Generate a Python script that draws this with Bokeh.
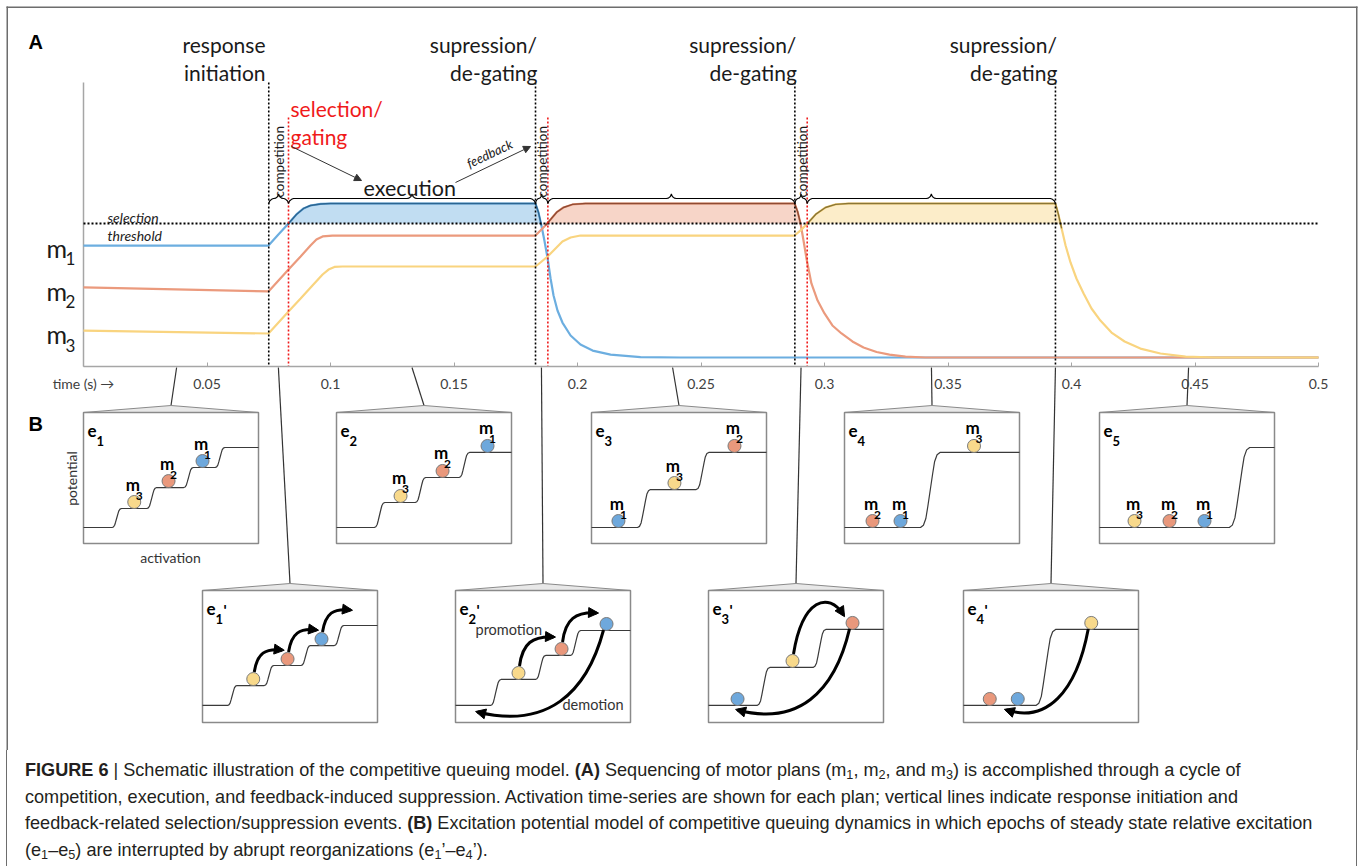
import numpy as np
from bokeh.plotting import figure
from bokeh.models import Range1d, LinearAxis, FixedTicker, Div, Arrow, NormalHead
from bokeh.layouts import column
from bokeh.embed import file_html
from bokeh.resources import INLINE
from bokeh.core.properties import value

# ======================= DATA =======================
# Panel A: activation time series of the three motor plans (time in s, activation in a.u.)
M1_T = [0.0, 0.0749, 0.0789, 0.0830, 0.0862, 0.0891, 0.0919, 0.0960, 0.1000, 0.1830, 0.1842,
        0.1854, 0.1866, 0.1879, 0.1891, 0.1903, 0.1919, 0.1939, 0.1972, 0.2012, 0.2061, 0.2134,
        0.2255, 0.2417, 0.5]
M1_A = [0.727, 0.727, 0.799, 0.870, 0.929, 0.968, 0.987, 0.997, 1.0, 1.0, 0.942,
        0.857, 0.760, 0.643, 0.513, 0.403, 0.305, 0.227, 0.143, 0.084, 0.045, 0.019,
        0.003, 0.0, 0.0]
M2_T = [0.0, 0.0749, 0.0830, 0.0879, 0.0919, 0.0943, 0.0968, 0.1008, 0.1830, 0.1850, 0.1870,
        0.1891, 0.1915, 0.1943, 0.1980, 0.2032, 0.2879, 0.2891, 0.2903, 0.2915, 0.2927, 0.2947,
        0.2972, 0.3000, 0.3032, 0.3069, 0.3113, 0.3158, 0.3211, 0.3263, 0.3328, 0.3409, 0.5]
M2_A = [0.455, 0.429, 0.571, 0.656, 0.727, 0.766, 0.786, 0.792, 0.792, 0.825, 0.857,
        0.896, 0.942, 0.974, 0.994, 1.0, 1.0, 0.948, 0.870, 0.760, 0.643, 0.481,
        0.370, 0.286, 0.208, 0.156, 0.104, 0.065, 0.036, 0.019, 0.006, 0.0, 0.0]
M3_T = [0.0, 0.0749, 0.0830, 0.0879, 0.0927, 0.0968, 0.0992, 0.1016, 0.1049, 0.1830, 0.1850,
        0.1879, 0.1911, 0.1939, 0.1972, 0.2012, 0.2879, 0.2903, 0.2931, 0.2964, 0.3004, 0.3045,
        0.3097, 0.3935, 0.3947, 0.3960, 0.3976, 0.3996, 0.4020, 0.4049, 0.4081, 0.4117, 0.4162,
        0.4215, 0.4279, 0.4360, 0.4462, 0.4583, 0.5]
M3_A = [0.175, 0.156, 0.299, 0.383, 0.468, 0.539, 0.571, 0.588, 0.591, 0.591, 0.617,
        0.656, 0.708, 0.753, 0.779, 0.792, 0.792, 0.825, 0.870, 0.929, 0.974, 0.994,
        1.0, 1.0, 0.929, 0.838, 0.727, 0.617, 0.513, 0.416, 0.318, 0.240, 0.162,
        0.104, 0.058, 0.026, 0.006, 0.0, 0.0]
THRESHOLD = 0.870
INITIATION_T = [0.075]
SUPPRESSION_T = [0.183, 0.288, 0.3935]
SELECTION_T = [0.083, 0.188, 0.293]
TIME_TICKS = [0, 0.05, 0.1, 0.15, 0.2, 0.25, 0.3, 0.35, 0.4, 0.45, 0.5]
TIME_TICK_LABELS = ["time (s) \u2192", "0.05", "0.1", "0.15", "0.2", "0.25", "0.3", "0.35",
                    "0.4", "0.45", "0.5"]
EPOCH_T = [0.0377, 0.133, 0.2385, 0.3433, 0.4474]      # times shown by e1..e5
REORG_T = [0.0789, 0.1854, 0.2905, 0.3935]             # times shown by e1'..e4'

# Panel B: potential landscapes (levels as fraction of box height, steps as fraction of width)
EPOCH_LEVELS = [[0.122, 0.267, 0.427, 0.580, 0.733], [0.122, 0.313, 0.504, 0.695],
                [0.122, 0.412, 0.695], [0.122, 0.695], [0.122, 0.733]]
EPOCH_STEPS = [[0.19, 0.39, 0.60, 0.78], [0.246, 0.48, 0.73], [0.30, 0.634], [0.49], [0.80]]
# (activation across box, occupied potential level) for m1, m2, m3
EPOCH_M1 = [(0.68, 3), (0.863, 3), (0.154, 0), (0.32, 0), (0.60, 0)]
EPOCH_M2 = [(0.486, 2), (0.606, 2), (0.817, 2), (0.16, 0), (0.40, 0)]
EPOCH_M3 = [(0.29, 1), (0.366, 1), (0.474, 1), (0.74, 1), (0.20, 0)]
REORG_LEVELS = [[0.129, 0.280, 0.432, 0.583, 0.735], [0.129, 0.326, 0.508, 0.697],
                [0.129, 0.417, 0.705], [0.129, 0.705]]
REORG_STEPS = [[0.17, 0.38, 0.59, 0.78], [0.23, 0.486, 0.686], [0.314, 0.634], [0.47]]
REORG_M1 = [(0.68, 3), (0.863, 3), (0.166, 0), (0.31, 0)]
REORG_M2 = [(0.486, 2), (0.606, 2), (0.823, 2), (0.15, 0)]
REORG_M3 = [(0.29, 1), (0.36, 1), (0.48, 1), (0.73, 1)]

CAPTION_LINES = [
    "<b>FIGURE 6</b> | Schematic illustration of the competitive queuing model. <b>(A)</b> Sequencing of motor plans "
    "(m<sub>1</sub>, m<sub>2</sub>, and m<sub>3</sub>) is accomplished through a cycle of",
    "competition, execution, and feedback-induced suppression. Activation time-series are shown for each plan; "
    "vertical lines indicate response initiation and",
    "feedback-related selection/suppression events. <b>(B)</b> Excitation potential model of competitive queuing "
    "dynamics in which epochs of steady state relative excitation",
    "(e<sub>1</sub>\u2013e<sub>5</sub>) are interrupted by abrupt reorganizations "
    "(e<sub>1</sub>\u2019\u2013e<sub>4</sub>\u2019).",
]

# ======================= LAYOUT / STYLE =======================
W, H = 1360, 750
CAP_H = 116
AX_X0 = 83.0
AX_PX_PER_S = 2470.0
ACT_Y0 = 357.0
ACT_PX = 154.0
AXIS_Y = 366.0
FONT = "Lato"
BLUE, ORANGE, YELLOW = "#6caee0", "#eb9a7d", "#f9d47f"
BLUE_D, ORANGE_D, YELLOW_D = "#2c6591", "#8f4b33", "#8a7635"
BALL = {"m1": "#6ea8dc", "m2": "#e9987c", "m3": "#f8d98b"}
RED = "#f01a1a"
FRAME = "#6d6d6d"


def tx(t):
    return AX_X0 + t * AX_PX_PER_S


p = figure(width=W, height=H, x_range=Range1d(0, W), y_range=Range1d(H, 0),
           output_backend="svg", toolbar_location=None, x_axis_type=None, y_axis_type=None,
           min_border=0)
p.outline_line_color = None
p.background_fill_color = "white"
p.border_fill_color = "white"
p.extra_x_ranges = {"time": Range1d(-AX_X0 / AX_PX_PER_S, (W - AX_X0) / AX_PX_PER_S)}
p.extra_y_ranges = {"act": Range1d((ACT_Y0 - H) / ACT_PX, ACT_Y0 / ACT_PX)}


def txt(x, y, s, size, color="#1a1a1a", style="normal", align="left", baseline="alphabetic",
        angle=0.0, font=FONT):
    p.text(x=[x], y=[y], text=[s], text_font=value(font), text_font_size=f"{size}px",
           text_font_style=style, text_color=color, text_align=align,
           text_baseline=baseline, angle=angle)


def arrow(xs, ys, xe, ye, size, width, color="black"):
    p.add_layout(Arrow(end=NormalHead(size=size, fill_color=color, line_color=color, line_width=1),
                       x_start=xs, y_start=ys, x_end=xe, y_end=ye,
                       line_width=width, line_color=color))


# frame
p.line([6.75, 6.75], [6, H], line_color=FRAME, line_width=1.5)
p.line([1356.25, 1356.25], [6, H], line_color=FRAME, line_width=1.5)
p.line([6, 1357], [6.75, 6.75], line_color=FRAME, line_width=1.5)

# ---------------- Panel A ----------------
p.line([AX_X0, AX_X0], [82, AXIS_Y], line_color="#a6a6a6", line_width=1.5)
taxis = LinearAxis(x_range_name="time", fixed_location=AXIS_Y, bounds=(0, 0.5),
                   ticker=FixedTicker(ticks=TIME_TICKS, minor_ticks=[]),
                   major_label_overrides=dict(zip(TIME_TICKS, TIME_TICK_LABELS)))
taxis.axis_line_color = "#a6a6a6"
taxis.axis_line_width = 1.5
taxis.major_tick_line_color = "#a6a6a6"
taxis.major_tick_in = 4
taxis.major_tick_out = 0
taxis.minor_tick_line_color = None
taxis.major_label_text_font = FONT
taxis.major_label_text_font_size = "14px"
taxis.major_label_text_color = "#404040"
taxis.major_label_standoff = 8
p.add_layout(taxis, "below")

series = [(M1_T, M1_A, BLUE, BLUE_D), (M2_T, M2_A, ORANGE, ORANGE_D), (M3_T, M3_A, YELLOW, YELLOW_D)]
for t, a, c, cd in series:
    a = np.array(a)
    p.varea(x=t, y1=THRESHOLD, y2=np.maximum(a, THRESHOLD), x_range_name="time",
            y_range_name="act", fill_color=c, fill_alpha=0.42)
for t, a, c, cd in series:
    p.line(t, a, x_range_name="time", y_range_name="act", line_color=c, line_width=2.2)
for t, a, c, cd in series:
    t = np.array(t)
    a = np.array(a)
    m = a >= 0.835
    p.line(t[m], a[m], x_range_name="time", y_range_name="act", line_color=cd, line_width=1.4)

p.line([0, 0.5], [THRESHOLD, THRESHOLD], x_range_name="time", y_range_name="act",
       line_color="black", line_width=1.8, line_dash="2 2")

black_t = INITIATION_T + SUPPRESSION_T
p.segment(x0=black_t, y0=[82] * 4, x1=black_t, y1=[AXIS_Y] * 4, x_range_name="time",
          line_color="black", line_width=1.6, line_dash="2 2")
p.segment(x0=SELECTION_T, y0=[117] * 3, x1=SELECTION_T, y1=[AXIS_Y] * 3, x_range_name="time",
          line_color=RED, line_width=1.6, line_dash="2 2")


def brace(xa, xb, y=198.0):
    m = (xa + xb) / 2
    d = min(5.0, (xb - xa) / 4.2)
    xs = [xa, xa + 0.2 * d, xa + 0.6 * d, xa + d, m - d, m - 0.6 * d, m - 0.2 * d, m,
          m + 0.2 * d, m + 0.6 * d, m + d, xb - d, xb - 0.6 * d, xb - 0.2 * d, xb]
    ys = [y + 5, y + 2.5, y + 0.8, y, y, y - 0.4, y - 2, y - 4.5,
          y - 2, y - 0.4, y, y, y + 0.8, y + 2.5, y + 5]
    p.line(xs, ys, line_color="black", line_width=1.1)


starts = INITIATION_T + SUPPRESSION_T[:-1]
for i in range(3):
    brace(tx(starts[i]), tx(SELECTION_T[i]))
    brace(tx(SELECTION_T[i]), tx(SUPPRESSION_T[i]))
    txt((tx(starts[i]) + tx(SELECTION_T[i])) / 2 + 0.5, 197, "competition", 13.5, angle=np.pi / 2,
        baseline="middle")

txt(28, 41, "A", 20, style="bold", font="Liberation Sans", color="black")
txt(28, 423, "B", 20, style="bold", font="Liberation Sans", color="black")
txt(265, 44, "response", 21, align="right")
txt(265, 72, "initiation", 21, align="right")
for t in SUPPRESSION_T:
    txt(tx(t) + 1.5, 44, "supression/", 21, align="right")
    txt(tx(t) + 2, 72, "de-gating", 21, align="right")
txt(290, 108, "selection/", 21, color=RED)
txt(290, 136, "gating", 21, color=RED)
txt(363, 187, "execution", 21.5)
txt(107, 217, "selection", 14, style="italic", color="#222222")
txt(107, 235, "threshold", 14, style="italic", color="#222222")
for k, (yb, ys) in enumerate([(247, 258), (290, 301), (333, 345)]):
    txt(46, yb, "m", 25)
    txt(65, ys, str(k + 1), 17)
txt(489, 153, "feedback", 13, style="italic", align="center", baseline="middle", angle=0.44)
arrow(291, 146, 361, 180, 7, 1, "#333333")
arrow(455, 182, 530, 146, 7, 1, "#333333")

# ---------------- Panel B ----------------
INSET_W = 175
ROW1_LEFT, ROW1_TOP, ROW1_H, ROW1_PEAK = [83, 336, 591, 844, 1099], 412, 131, 405
ROW2_LEFT, ROW2_TOP, ROW2_H, ROW2_PEAK = [202, 455, 708, 963], 590, 132, 583
PROFILE_O = [-1, -0.7, -0.45, -0.25, 0, 0.25, 0.45, 0.7, 1]
PROFILE_F = [0, 0.03, 0.12, 0.28, 0.5, 0.72, 0.88, 0.97, 1]

for t, lft in zip(EPOCH_T, ROW1_LEFT):
    p.line([tx(t), lft + INSET_W / 2], [AXIS_Y + 1, ROW1_PEAK], line_color="#333333", line_width=1.2)
for t, lft in zip(REORG_T, ROW2_LEFT):
    p.line([tx(t), lft + INSET_W / 2], [AXIS_Y + 1, ROW2_PEAK], line_color="#333333", line_width=1.2)


def inset(left, top, h, peak, levels, steps, balls, num, prime, mlabels):
    w = INSET_W
    bottom = top + h
    p.patch([left, left + w / 2, left + w], [top, peak, top], fill_color="#e8e8e8",
            line_color="#8a8a8a", line_width=1)
    p.quad(left=left, right=left + w, top=top, bottom=bottom, fill_color="white",
           line_color="#8a8a8a", line_width=1.5)
    xs = [left]
    ys = [bottom - levels[0] * h]
    for i, s in enumerate(steps):
        a = bottom - levels[i] * h
        b = bottom - levels[i + 1] * h
        sx = left + s * w
        half = (6 + 0.18 * abs(a - b)) / 2
        for o, f in zip(PROFILE_O, PROFILE_F):
            xs.append(sx + o * half)
            ys.append(a + (b - a) * f)
    xs.append(left + w)
    ys.append(bottom - levels[-1] * h)
    p.line(xs, ys, line_color="#3a3a3a", line_width=1.2)
    pos = {}
    for key, (u, li) in balls.items():
        bx = left + u * w
        by = bottom - levels[li] * h - 6.5
        pos[key] = (bx, by)
        p.scatter([bx], [by], marker="circle", size=13, fill_color=BALL[key],
                  line_color="#7a7a7a", line_width=1)
        if mlabels:
            txt(bx - 1.5, by - 18, "m", 17, style="bold", align="center", color="black")
            txt(bx + 5, by - 6.5, key[1], 12, style="bold", align="center", color="black")
    txt(left + 4, top + 18, "e", 17, style="bold", color="black")
    txt(left + 13, top + 28, num, 13, style="bold", color="black")
    if prime:
        txt(left + 21, top + 19, "'", 15, style="bold", color="black")
    return pos


for i in range(5):
    balls = {"m1": EPOCH_M1[i], "m2": EPOCH_M2[i], "m3": EPOCH_M3[i]}
    inset(ROW1_LEFT[i], ROW1_TOP, ROW1_H, ROW1_PEAK, EPOCH_LEVELS[i], EPOCH_STEPS[i], balls,
          str(i + 1), False, True)

txt(71, 478, "potential", 14, align="center", baseline="middle", angle=np.pi / 2, color="#333333")
txt(170, 557, "activation", 14, align="center", baseline="middle", color="#333333")

HOOK_S = [(1, -7), (4, -26), (12, -31), (29, -29)]
HOOK_L = [(1, -7), (4, -30), (14, -37), (35, -36)]
ARCH = [(1, -7), (10, -62), (36, -70), (51, -46)]
DEMOTE = {1: [(-3, 6), (-20, 70), (-60, 105), (-129, 88)],
          2: [(-3, 6), (-18, 70), (-55, 103), (-115, 87)],
          3: [(-3, 6), (-15, 70), (-45, 100), (-85, 87)]}
REORG_ARROWS = [[("m3", HOOK_S), ("m2", HOOK_S), ("m1", HOOK_S)],
                [("m3", HOOK_L), ("m2", HOOK_L), ("m1", DEMOTE[1])],
                [("m3", ARCH), ("m2", DEMOTE[2])],
                [("m3", DEMOTE[3])]]

for i in range(4):
    balls = {"m1": REORG_M1[i], "m2": REORG_M2[i], "m3": REORG_M3[i]}
    pos = inset(ROW2_LEFT[i], ROW2_TOP, ROW2_H, ROW2_PEAK, REORG_LEVELS[i], REORG_STEPS[i], balls,
                str(i + 1), True, False)
    for key, geom in REORG_ARROWS[i]:
        bx, by = pos[key]
        (a0, a1), (b0, b1), (c0, c1), (d0, d1) = geom
        p.bezier(x0=[bx + a0], y0=[by + a1], x1=[bx + d0], y1=[by + d1],
                 cx0=[bx + b0], cy0=[by + b1], cx1=[bx + c0], cy1=[by + c1],
                 line_color="black", line_width=3)
        vx, vy = d0 - c0, d1 - c1
        n = (vx ** 2 + vy ** 2) ** 0.5
        arrow(bx + d0 - 3 * vx / n, by + d1 - 3 * vy / n, bx + d0 + 2 * vx / n, by + d1 + 2 * vy / n,
              10, 1, "black")

txt(475, 629, "promotion", 14.5, baseline="middle", color="#333333")
txt(562, 704, "demotion", 14.5, baseline="middle", color="#333333")

# ---------------- caption ----------------
sub_style = "font-size:70%;vertical-align:-0.25em;line-height:0;"
lines_html = "<br>".join(l.replace("<sub>", f'<sub style="{sub_style}">') for l in CAPTION_LINES)
cap_html = (
    '<div style="box-sizing:border-box;width:1351px;height:116px;margin-left:6px;'
    f'border-left:1.5px solid {FRAME};border-right:1.5px solid {FRAME};'
    "padding:7px 0 0 18px;font-family:'Liberation Sans',Arial,sans-serif;font-size:18.1px;"
    'line-height:26.5px;color:#231f20;white-space:nowrap;overflow:hidden;">' + lines_html + "</div>"
)
cap = Div(text=cap_html, width=W, height=CAP_H, margin=0)

layout = column(p, cap, spacing=0)
open("out.html", "w").write(file_html(layout, INLINE))
